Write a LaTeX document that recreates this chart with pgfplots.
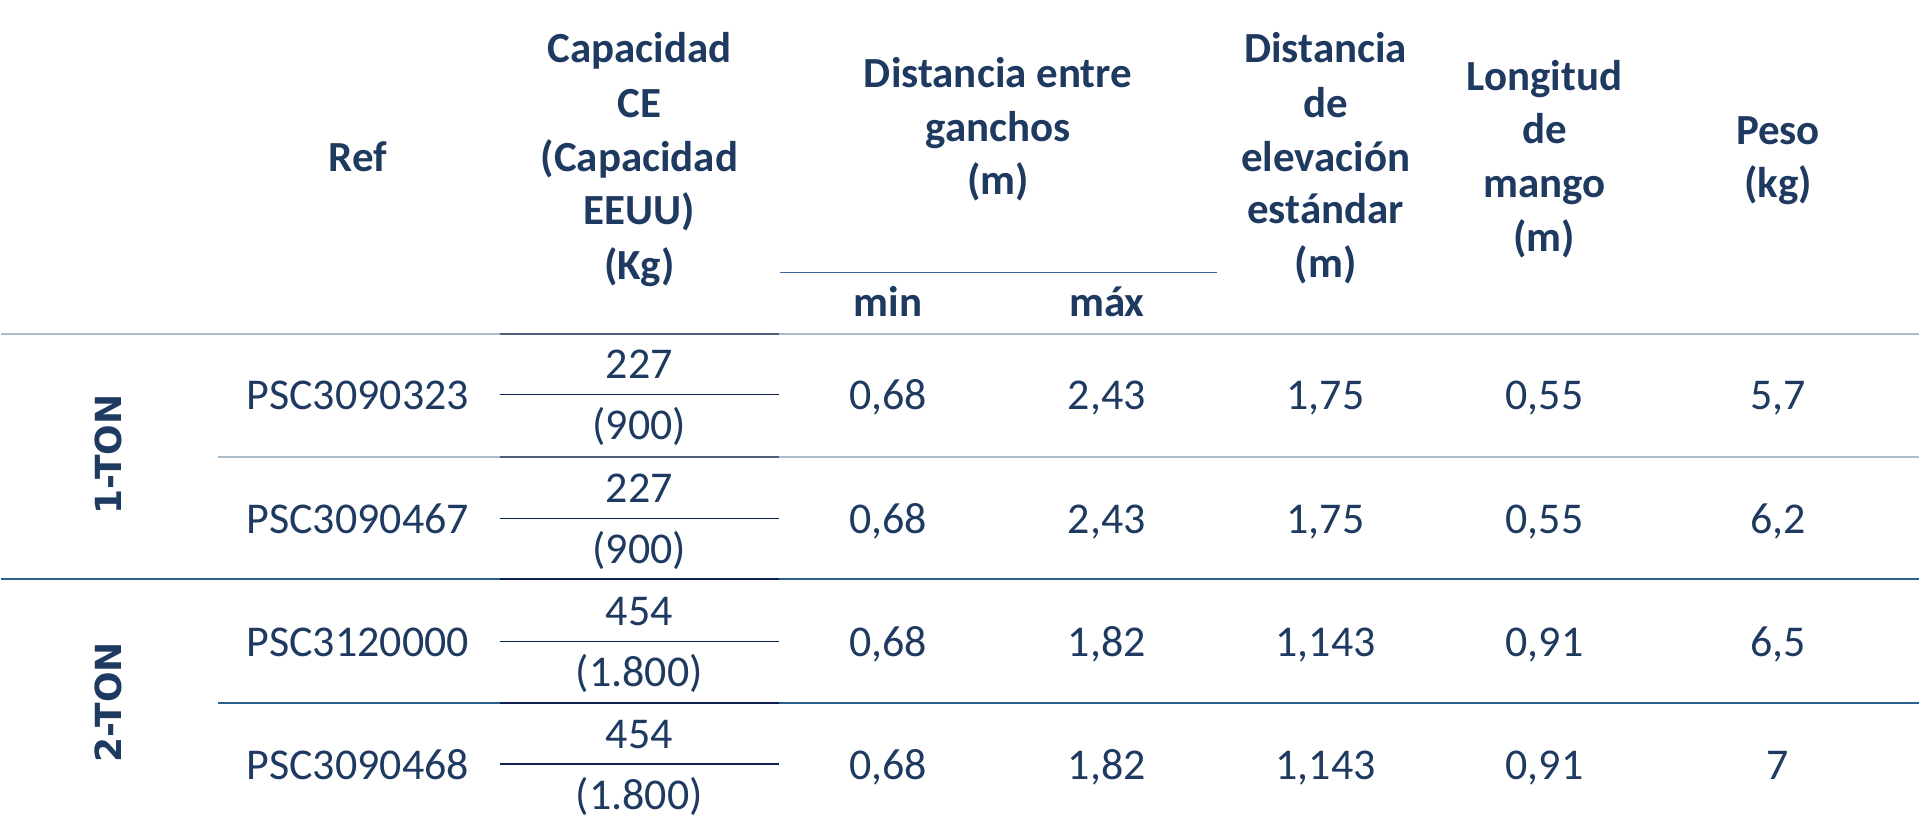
\documentclass[border=0pt]{standalone}
\usepackage{pgfplots}
\pgfplotsset{compat=1.18}
\usepackage{pgfplotstable}
\usepackage{fontspec}
\setmainfont{Carlito}
\newfontfamily\tonfont{DejaVu Sans}
\definecolor{navy}{HTML}{1F3A60}
\definecolor{lightrule}{HTML}{A9BCCB}
\definecolor{darkrule}{HTML}{2A6090}
\definecolor{capseg}{HTML}{4F5F7A}
\definecolor{capdark}{HTML}{0E2150}
\definecolor{midrule}{HTML}{3A6A9A}

\pgfplotstableread{
y   ref        cap capus   dmin dmax elev  mango peso
410 PSC3090323 227 (900)   0,68 2,43 1,75  0,55  5,7
534 PSC3090467 227 (900)   0,68 2,43 1,75  0,55  6,2
657 PSC3120000 454 (1.800) 0,68 1,82 1,143 0,91  6,5
780 PSC3090468 454 (1.800) 0,68 1,82 1,143 0,91  7
}\datatable

\newcommand\bodyfont{\fontsize{22bp}{26bp}\selectfont}
\newcommand\headfont{\fontsize{21.5bp}{26bp}\selectfont\bfseries}

\begin{document}
\begin{tikzpicture}
\begin{axis}[
  width=960bp, height=411.5bp, scale only axis,
  xmin=0, xmax=1920, ymin=0, ymax=823, y dir=reverse,
  hide axis, clip=false,
  every node near coord/.style={anchor=base, inner sep=0pt, text=navy, font=\bodyfont},
  nodes near coords, point meta=explicit symbolic,
]
\path (axis cs:0,0) rectangle (axis cs:1920,823);

% rules
\draw[lightrule, line width=1.1bp] (axis cs:0,334) -- (axis cs:1920,334);
\draw[capseg, line width=1.1bp] (axis cs:499,334) -- (axis cs:779,334);
\draw[midrule, line width=0.8bp] (axis cs:780,273) -- (axis cs:1217,273);
\draw[lightrule, line width=1bp] (axis cs:217,457.5) -- (axis cs:1920,457.5);
\draw[capseg, line width=1bp] (axis cs:499,457.5) -- (axis cs:779,457.5);
\draw[darkrule, line width=0.9bp] (axis cs:0,580) -- (axis cs:1920,580);
\draw[capdark, line width=0.9bp] (axis cs:499,580) -- (axis cs:779,580);
\draw[darkrule, line width=0.9bp] (axis cs:217,704) -- (axis cs:1920,704);
\draw[capdark, line width=0.9bp] (axis cs:499,704) -- (axis cs:779,704);
\draw[capdark, line width=0.7bp] (axis cs:499,395) -- (axis cs:779,395);
\draw[capdark, line width=0.7bp] (axis cs:499,519) -- (axis cs:779,519);
\draw[capdark, line width=0.7bp] (axis cs:499,642) -- (axis cs:779,642);
\draw[capdark, line width=0.7bp] (axis cs:499,765) -- (axis cs:779,765);

% header
\begin{scope}[every node/.style={anchor=base, inner sep=0pt, text=navy, font=\headfont}]
\node at (axis cs:357,172) {Ref};
\node at (axis cs:639,63) {Capacidad};
\node at (axis cs:639,118) {CE};
\node at (axis cs:639,172) {(Capacidad};
\node at (axis cs:639,225) {EEUU)};
\node at (axis cs:639,280) {(Kg)};
\node at (axis cs:998,88) {Distancia entre};
\node at (axis cs:998,142) {ganchos};
\node at (axis cs:998,195) {(m)};
\node at (axis cs:888,317) {min};
\node at (axis cs:1107,317) {máx};
\node at (axis cs:1326,63) {Distancia};
\node at (axis cs:1326,118) {de};
\node at (axis cs:1326,172) {elevación};
\node at (axis cs:1326,224) {estándar};
\node at (axis cs:1326,278) {(m)};
\node at (axis cs:1545,91) {Longitud};
\node at (axis cs:1545,144) {de};
\node at (axis cs:1545,198) {mango};
\node at (axis cs:1545,252) {(m)};
\node at (axis cs:1779,145) {Peso};
\node at (axis cs:1779,198) {(kg)};
\end{scope}
\node[rotate=90, anchor=center, inner sep=0pt, text=navy, font=\tonfont\fontsize{18bp}{22bp}\selectfont\bfseries] at (axis cs:107,455) {1-TON};
\node[rotate=90, anchor=center, inner sep=0pt, text=navy, font=\tonfont\fontsize{18bp}{22bp}\selectfont\bfseries] at (axis cs:107,703) {2-TON};

% data
\addplot[draw=none, mark=none] table[x expr=357, y=y, meta=ref] {\datatable};
\addplot[draw=none, mark=none] table[x expr=639, y expr=\thisrow{y}-31, meta=cap] {\datatable};
\addplot[draw=none, mark=none] table[x expr=639, y expr=\thisrow{y}+30, meta=capus] {\datatable};
\addplot[draw=none, mark=none] table[x expr=888, y=y, meta=dmin] {\datatable};
\addplot[draw=none, mark=none] table[x expr=1107, y=y, meta=dmax] {\datatable};
\addplot[draw=none, mark=none] table[x expr=1326, y=y, meta=elev] {\datatable};
\addplot[draw=none, mark=none] table[x expr=1545, y=y, meta=mango] {\datatable};
\addplot[draw=none, mark=none] table[x expr=1779, y=y, meta=peso] {\datatable};
\end{axis}
\end{tikzpicture}
\end{document}
